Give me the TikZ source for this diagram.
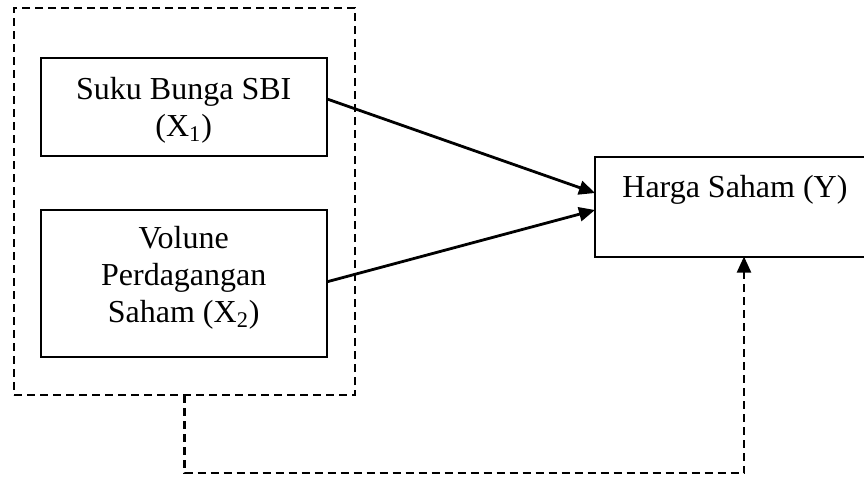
\documentclass[tikz,border=0pt]{standalone}
\usepackage{fontspec}
\setmainfont{Liberation Serif}
\usetikzlibrary{arrows.meta,calc}
\begin{document}
\begin{tikzpicture}[x=0.5pt,y=-0.5pt,
  box/.style={draw,line width=1pt,inner sep=0pt,outer sep=0pt},
  lbl/.style={align=center,font=\fontsize{16}{18.5}\selectfont,inner sep=0pt},
  dashline/.style={line width=1.1pt,dash pattern=on 4pt off 2.5pt},
  arrowtip/.style={-{Triangle[length=8pt,width=7pt]}},
  arr/.style={line width=1.4pt,arrowtip}]
\useasboundingbox (0,0) rectangle (864,479);
\clip (0,0) rectangle (864,479);
\node[box,dashline,minimum width=170.5pt,minimum height=193.5pt] (outer) at (184.5,201.5) {};
\node[box,minimum width=143.25pt,minimum height=48.75pt] (b1) at (183.75,106.75) {};
\node[box,minimum width=143.25pt,minimum height=73.25pt] (b2) at (183.75,283.25) {};
\node[box,minimum width=142.5pt,minimum height=50pt] (y) at (737.5,206.5) {};
\node[lbl] (t1) at (183.75,110.3) {Suku Bunga SBI\\(X\textsubscript{1})};
\node[lbl] (t2) at (183.75,278) {Volune\\Perdagangan\\Saham (X\textsubscript{2})};
\node[lbl,anchor=base west] (ty) at (622,197) {Harga Saham (Y)};
\draw[arr] ($(b1.north east)!0.42!(b1.south east)$) -- ($(y.north west)!0.365!(y.south west)$);
\draw[arr] ($(b2.north east)!0.49!(b2.south east)$) -- ($(y.north west)!0.535!(y.south west)$);
\coordinate (c) at (744,473);
\draw[dashline,arrowtip] (outer.south) |- (c) -- (c |- y.south);
\end{tikzpicture}
\end{document}
